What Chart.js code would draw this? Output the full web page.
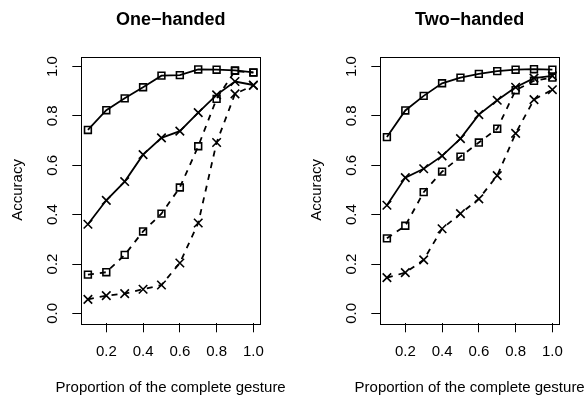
<!DOCTYPE html>
<html>
<head>
<meta charset="utf-8">
<title>Accuracy vs proportion of gesture</title>
<script src="https://cdn.jsdelivr.net/npm/chart.js@4/dist/chart.umd.min.js"></script>
<style>
  html, body { margin: 0; padding: 0; background: #fff; overflow: hidden; }
  body { width: 588px; height: 397px; position: relative; }
  canvas { position: absolute; top: 0; }
  #oneHanded { left: 0; }
  #twoHanded { left: 298.5px; }
</style>
</head>
<body>
<canvas id="oneHanded" width="294" height="397"></canvas>
<canvas id="twoHanded" width="294" height="397"></canvas>
<script>
// Proportion of the gesture seen (x) and the two panel titles
const proportions = [0.1, 0.2, 0.3, 0.4, 0.5, 0.6, 0.7, 0.8, 0.9, 1.0];
const xTicks = [0.2, 0.4, 0.6, 0.8, 1.0];
const yTicks = [0.0, 0.2, 0.4, 0.6, 0.8, 1.0];
const panelTitles = ["One\u2212handed", "Two\u2212handed"];
const xTitle = "Proportion of the complete gesture";
const yTitle = "Accuracy";

// One-handed panel
const oneSolidSquare = [0.743, 0.823, 0.871, 0.916, 0.963, 0.965, 0.988, 0.987, 0.984, 0.976];
const oneSolidCross  = [0.361, 0.458, 0.534, 0.643, 0.711, 0.738, 0.813, 0.885, 0.939, 0.925];
const oneDashSquare  = [0.157, 0.167, 0.237, 0.332, 0.404, 0.510, 0.677, 0.869, 0.982, 0.975];
const oneDashCross   = [0.057, 0.072, 0.080, 0.098, 0.115, 0.204, 0.366, 0.692, 0.889, 0.923];

// Two-handed panel
const twoSolidSquare = [0.714, 0.822, 0.881, 0.932, 0.955, 0.970, 0.981, 0.987, 0.989, 0.987];
const twoSolidCross  = [0.438, 0.550, 0.586, 0.638, 0.708, 0.805, 0.863, 0.916, 0.953, 0.962];
const twoDashSquare  = [0.304, 0.355, 0.491, 0.574, 0.635, 0.692, 0.748, 0.904, 0.942, 0.955];
const twoDashCross   = [0.145, 0.165, 0.217, 0.343, 0.404, 0.464, 0.558, 0.729, 0.866, 0.906];

const FONT = "'Liberation Sans', Arial, Helvetica, sans-serif";

function $(id) { return document.getElementById(id); }

function toPoints(values) {
  return proportions.map((x, i) => ({ x, y: values[i] }));
}

function series(values, dashed, marker) {
  return {
    data: toPoints(values),
    borderColor: "#000",
    borderWidth: 1.8,
    borderDash: dashed ? [6, 6] : [],
    tension: 0,
    pointStyle: marker,
    pointRadius: marker === "rect" ? 4.8 : 6,
    pointBorderWidth: 1.6,
    pointBorderColor: "#000",
    pointBackgroundColor: "rgba(0,0,0,0)",
    fill: false,
  };
}

// R-style full box round the plotting region, plus the x label.
// The x label is wider than the plot box, and Chart.js would squeeze
// its own axis title to the box width, so it is drawn here instead.
const boxPlugin = {
  id: "rbox",
  afterDatasetsDraw(chart) {
    const a = chart.chartArea;
    const ctx = chart.ctx;
    ctx.save();
    ctx.strokeStyle = "#000";
    ctx.lineWidth = 1;
    ctx.strokeRect(Math.round(a.left) + 0.5, Math.round(a.top) + 0.5,
      Math.round(a.right - a.left), Math.round(a.bottom - a.top));
    ctx.restore();
  },
  afterDraw(chart) {
    const a = chart.chartArea;
    const ctx = chart.ctx;
    ctx.save();
    ctx.fillStyle = "#000";
    ctx.font = "15px " + FONT;
    ctx.textAlign = "center";
    ctx.textBaseline = "middle";
    ctx.fillText(xTitle, (a.left + a.right) / 2, chart.scales.x.bottom - 9);
    ctx.restore();
  },
};

function makePanel(canvasId, title, solidSq, solidX, dashSq, dashX) {
  return new Chart($(canvasId), {
    type: "line",
    data: {
      datasets: [
        series(solidSq, false, "rect"),
        series(solidX, false, "crossRot"),
        series(dashSq, true, "rect"),
        series(dashX, true, "crossRot"),
      ],
    },
    options: {
      responsive: false,
      animation: false,
      devicePixelRatio: 1,
      events: [],
      layout: { padding: { left: 0, right: 34, top: 0, bottom: 0 } },
      plugins: {
        legend: { display: false },
        tooltip: { enabled: false },
        title: {
          display: true,
          text: title,
          fullSize: false,
          color: "#000",
          font: { family: FONT, size: 18, weight: "bold" },
          padding: { top: 9, bottom: 26 },
        },
      },
      scales: {
        x: {
          type: "linear",
          min: 0.064,
          max: 1.036,
          afterBuildTicks: (s) => { s.ticks = xTicks.map((v) => ({ value: v })); },
          afterFit: (s) => { s.height = 73.7; },
          ticks: {
            color: "#000",
            font: { family: FONT, size: 15 },
            padding: 11,
            maxRotation: 0,
            autoSkip: false,
            callback: (v) => v.toFixed(1),
          },
          grid: { drawOnChartArea: false, drawTicks: true, tickLength: 9, color: "#000", lineWidth: 1 },
          border: { display: false },
          title: { display: false },
        },
        y: {
          type: "linear",
          min: -0.04,
          max: 1.04,
          afterBuildTicks: (s) => { s.ticks = yTicks.map((v) => ({ value: v })); },
          afterFit: (s) => { s.width = 81.3; },
          ticks: {
            color: "#000",
            font: { family: FONT, size: 15 },
            padding: 8.6,
            minRotation: 90,
            maxRotation: 90,
            crossAlign: "center",
            autoSkip: false,
            callback: (v) => v.toFixed(1),
          },
          grid: { drawOnChartArea: false, drawTicks: true, tickLength: 9, color: "#000", lineWidth: 1 },
          border: { display: false },
          title: {
            display: true,
            text: yTitle,
            color: "#000",
            font: { family: FONT, size: 15 },
            padding: { top: 9, bottom: 0 },
          },
        },
      },
    },
    plugins: [boxPlugin],
  });
}

makePanel("oneHanded", panelTitles[0], oneSolidSquare, oneSolidCross, oneDashSquare, oneDashCross);
makePanel("twoHanded", panelTitles[1], twoSolidSquare, twoSolidCross, twoDashSquare, twoDashCross);
</script>
</body>
</html>
